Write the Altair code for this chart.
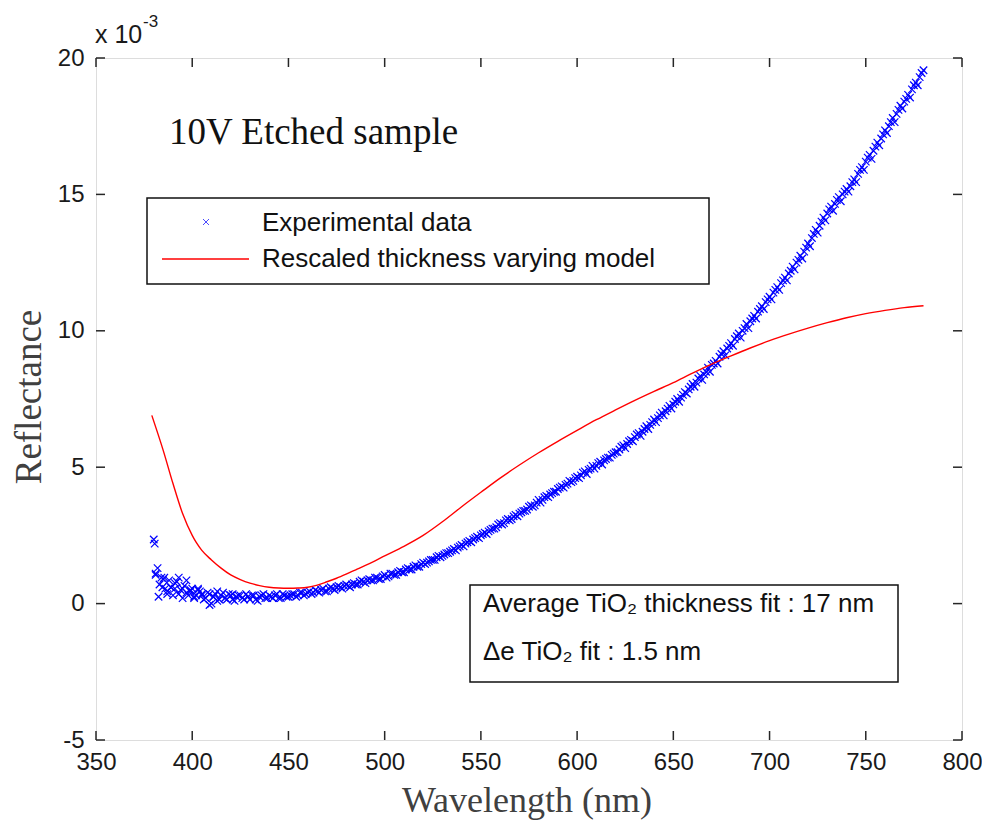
import altair as alt
import pandas as pd

# ---------------- data ----------------
exp_wl = list(range(380, 782, 2))
exp_r = [
    2.35, 1.3, 0.95, 0.55, 0.85, 0.3, 0.8, 0.5, 0.65, 0.3,
    0.55, 0.3, 0.45, 0.15, 0.4, 0.0, 0.35, 0.15, 0.4, 0.15,
    0.3, 0.1, 0.3, 0.2, 0.35, 0.15, 0.3, 0.1, 0.3, 0.2,
    0.3, 0.2, 0.35, 0.2, 0.3, 0.25, 0.35, 0.25, 0.4, 0.3,
    0.4, 0.35, 0.5, 0.4, 0.55, 0.45, 0.6, 0.5, 0.65, 0.55,
    0.7, 0.6, 0.75, 0.7, 0.85, 0.75, 0.9, 0.85, 0.95, 0.9,
    1.05, 1.0, 1.1, 1.05, 1.2, 1.15, 1.3, 1.25, 1.4, 1.35,
    1.5, 1.5, 1.6, 1.6, 1.75, 1.75, 1.85, 1.9, 2.0, 2.05,
    2.15, 2.2, 2.3, 2.35, 2.45, 2.5, 2.6, 2.65, 2.75, 2.8,
    2.95, 2.95, 3.1, 3.1, 3.25, 3.3, 3.4, 3.45, 3.6, 3.6,
    3.8, 3.8, 3.95, 4.0, 4.1, 4.2, 4.3, 4.35, 4.5, 4.5,
    4.65, 4.7, 4.85, 4.9, 5.05, 5.05, 5.2, 5.25, 5.35, 5.45,
    5.55, 5.65, 5.8, 5.85, 6.0, 6.1, 6.25, 6.3, 6.5, 6.55,
    6.75, 6.8, 7.0, 7.05, 7.25, 7.3, 7.5, 7.55, 7.75, 7.85,
    8.05, 8.1, 8.35, 8.4, 8.65, 8.75, 8.9, 9.05, 9.25, 9.35,
    9.55, 9.7, 9.9, 10.0, 10.25, 10.35, 10.55, 10.7, 10.9, 11.05,
    11.25, 11.4, 11.6, 11.75, 11.95, 12.1, 12.35, 12.5, 12.75, 12.9,
    13.2, 13.4, 13.7, 13.85, 14.15, 14.3, 14.55, 14.65, 14.9, 15.0,
    15.2, 15.3, 15.55, 15.75, 16.0, 16.2, 16.45, 16.6, 16.9, 17.05,
    17.35, 17.5, 17.8, 17.95, 18.25, 18.4, 18.65, 18.85, 19.1, 19.3,
    19.55,
]
odd_wl = list(range(381, 781, 2))
odd_r = [
    1.1, 0.7, 0.9, 0.45, 0.6, 0.75, 0.35, 0.55, 0.4, 0.5,
    0.25, 0.5, 0.3, 0.2, 0.35, 0.25, 0.1, 0.3, 0.2, 0.35,
    0.15, 0.25, 0.3, 0.15, 0.25, 0.3, 0.15, 0.25, 0.35, 0.2,
    0.25, 0.3, 0.2, 0.35, 0.25, 0.3, 0.35, 0.3, 0.4, 0.35,
    0.45, 0.4, 0.45, 0.5, 0.45, 0.55, 0.55, 0.6, 0.6, 0.65,
    0.65, 0.7, 0.7, 0.8, 0.8, 0.85, 0.85, 0.95, 0.9, 1.0,
    0.95, 1.1, 1.05, 1.15, 1.15, 1.25, 1.25, 1.35, 1.35, 1.45,
    1.45, 1.55, 1.6, 1.7, 1.7, 1.8, 1.85, 1.95, 1.95, 2.1,
    2.1, 2.25, 2.25, 2.4, 2.4, 2.55, 2.55, 2.7, 2.75, 2.9,
    2.9, 3.05, 3.05, 3.2, 3.2, 3.35, 3.4, 3.55, 3.55, 3.7,
    3.7, 3.9, 3.9, 4.05, 4.1, 4.25, 4.25, 4.4, 4.45, 4.6,
    4.6, 4.8, 4.75, 4.95, 4.95, 5.15, 5.1, 5.3, 5.35, 5.5,
    5.55, 5.75, 5.7, 5.95, 5.95, 6.2, 6.15, 6.4, 6.4, 6.65,
    6.65, 6.9, 6.9, 7.15, 7.15, 7.4, 7.4, 7.65, 7.7, 7.95,
    7.95, 8.25, 8.2, 8.5, 8.5, 8.8, 8.8, 9.15, 9.1, 9.45,
    9.45, 9.8, 9.75, 10.1, 10.1, 10.45, 10.45, 10.8, 10.8, 11.15,
    11.15, 11.5, 11.5, 11.85, 11.85, 12.2, 12.25, 12.6, 12.65, 13.05,
    13.1, 13.55, 13.6, 14.0, 14.05, 14.45, 14.4, 14.8, 14.75, 15.1,
    15.1, 15.45, 15.45, 15.9, 15.9, 16.35, 16.3, 16.75, 16.8, 17.2,
    17.25, 17.65, 17.65, 18.1, 18.15, 18.5, 18.55, 19.0, 19.0, 19.45,
]
extra_wl = [380.5, 381, 382.5, 384.5, 385.5, 387, 389, 391, 393, 395,
            397, 399, 401, 403, 405, 409, 411, 413, 417, 421]
extra_r = [2.2, 1.05, 0.25, 0.6, 0.95, 0.35, 0.6, 0.55, 0.95, 0.2,
           0.85, 0.45, 0.2, 0.55, 0.35, -0.05, 0.25, 0.45, 0.2, 0.35]

model_wl = [379, 385, 390, 395, 400, 402, 405, 410, 415, 420, 425, 430, 435,
            440, 445, 450, 455, 460, 465, 470, 475, 480, 485, 490, 495, 500,
            510, 520, 530, 540, 550, 560, 570, 580, 590, 600, 610, 620, 630,
            640, 650, 660, 670, 680, 690, 700, 710, 720, 730, 740, 750, 760,
            770, 780]
model_r = [6.9, 5.6, 4.4, 3.3, 2.5, 2.25, 1.95, 1.6, 1.3, 1.05, 0.88, 0.75,
           0.66, 0.6, 0.57, 0.56, 0.57, 0.6, 0.68, 0.8, 0.93, 1.08, 1.24, 1.4,
           1.57, 1.75, 2.1, 2.5, 3.0, 3.55, 4.08, 4.6, 5.08, 5.53, 5.95, 6.35,
           6.74, 7.1, 7.45, 7.78, 8.1, 8.45, 8.78, 9.08, 9.37, 9.64, 9.88,
           10.1, 10.3, 10.48, 10.63, 10.75, 10.85, 10.92]

x_ticks = [350, 400, 450, 500, 550, 600, 650, 700, 750, 800]
y_ticks = [-5, 0, 5, 10, 15, 20]

# ---------------- layout constants ----------------
W, H = 866, 682
SANS = "Liberation Sans"
SERIF = "Liberation Serif"
XSHAPE = "M-1,-1L1,1M-1,1L1,-1"
BLUE = "#0000ff"
RED = "#ff0000"

exp_df = pd.DataFrame({"wl": exp_wl + odd_wl + extra_wl,
                       "r": exp_r + odd_r + extra_r})
model_df = pd.DataFrame({"wl": model_wl, "r": model_r})
xt_df = pd.DataFrame({"v": x_ticks})
yt_df = pd.DataFrame({"v": y_ticks})
one = pd.DataFrame({"a": [0]})

xscale = alt.Scale(domain=[350, 800], nice=False, zero=False)
yscale = alt.Scale(domain=[-5, 20], nice=False, zero=False)

xaxis = alt.Axis(values=x_ticks, title=None, grid=False, ticks=False, tickSize=0,
                 domain=False, labelFont=SANS, labelFontSize=24, labelColor="#1a1a1a",
                 labelPadding=10, labelFlush=False, labelOverlap=False,
                 labelExpr="replace(datum.label, '\u2212', '-')")
yaxis = alt.Axis(values=y_ticks, title=None, grid=False, ticks=False, tickSize=0,
                 domain=False, labelFont=SANS, labelFontSize=24, labelColor="#1a1a1a",
                 labelPadding=12, labelFlush=False, labelOverlap=False,
                 labelExpr="replace(datum.label, '\u2212', '-')")

points = alt.Chart(exp_df).mark_point(
    shape=XSHAPE, filled=False, color=BLUE, strokeWidth=1.2, size=56, opacity=1
).encode(
    x=alt.X("wl:Q", scale=xscale, axis=xaxis),
    y=alt.Y("r:Q", scale=yscale, axis=yaxis),
)

line = alt.Chart(model_df).mark_line(color=RED, strokeWidth=1.4, interpolate="monotone").encode(
    x=alt.X("wl:Q", scale=xscale),
    y=alt.Y("r:Q", scale=yscale),
)

TICK = 9
tick_col = "#262626"
xt_bottom = alt.Chart(xt_df).mark_rule(color=tick_col, strokeWidth=1.5).encode(
    x=alt.X("v:Q", scale=xscale), y=alt.value(H), y2=alt.value(H - TICK))
xt_top = alt.Chart(xt_df).mark_rule(color=tick_col, strokeWidth=1.5).encode(
    x=alt.X("v:Q", scale=xscale), y=alt.value(0), y2=alt.value(TICK))
yt_left = alt.Chart(yt_df).mark_rule(color=tick_col, strokeWidth=1.5).encode(
    y=alt.Y("v:Q", scale=yscale), x=alt.value(0), x2=alt.value(TICK))
yt_right = alt.Chart(yt_df).mark_rule(color=tick_col, strokeWidth=1.5).encode(
    y=alt.Y("v:Q", scale=yscale), x=alt.value(W), x2=alt.value(W - TICK))

# legend box
leg_box = alt.Chart(one).mark_rect(fill="white", stroke="#111111", strokeWidth=1.5).encode(
    x=alt.value(51), x2=alt.value(613), y=alt.value(140), y2=alt.value(226))
leg_pt = alt.Chart(one).mark_point(shape=XSHAPE, filled=False, color=BLUE,
                                    strokeWidth=1, size=36).encode(
    x=alt.value(110), y=alt.value(164))
leg_line = alt.Chart(one).mark_rule(color=RED, strokeWidth=1.4).encode(
    x=alt.value(66), x2=alt.value(153), y=alt.value(201))
leg_t1 = alt.Chart(one).mark_text(text="Experimental data", align="left", baseline="middle",
                                   font=SANS, fontSize=26, color="#111111").encode(
    x=alt.value(166), y=alt.value(165))
leg_t2 = alt.Chart(one).mark_text(text="Rescaled thickness varying model", align="left",
                                   baseline="middle", font=SANS, fontSize=26,
                                   color="#111111").encode(
    x=alt.value(166), y=alt.value(201))

# annotation box
ann_box = alt.Chart(one).mark_rect(fill="white", stroke="#111111", strokeWidth=1.5).encode(
    x=alt.value(374), x2=alt.value(802), y=alt.value(527), y2=alt.value(624))
ann_t1 = alt.Chart(one).mark_text(text="Average TiO\u2082 thickness fit : 17 nm", align="left",
                                   baseline="alphabetic", font=SANS, fontSize=26,
                                   color="#111111").encode(
    x=alt.value(387), y=alt.value(554))
ann_t2 = alt.Chart(one).mark_text(text="\u0394e TiO\u2082 fit : 1.5 nm", align="left",
                                   baseline="alphabetic", font=SANS, fontSize=26,
                                   color="#111111").encode(
    x=alt.value(387), y=alt.value(602))

# titles
sample_t = alt.Chart(one).mark_text(text="10V Etched sample", align="left",
                                     baseline="alphabetic", font=SERIF, fontSize=37,
                                     color="#111111").encode(
    x=alt.value(73), y=alt.value(86))
xtitle = alt.Chart(one).mark_text(text="Wavelength (nm)", align="center",
                                   baseline="alphabetic", font=SERIF, fontSize=36,
                                   color="#404040").encode(
    x=alt.value(431), y=alt.value(754))
ytitle = alt.Chart(one).mark_text(text="Reflectance", align="center",
                                   baseline="alphabetic", font=SERIF, fontSize=37,
                                   color="#404040", angle=270).encode(
    x=alt.value(-55), y=alt.value(339))
exp_base = alt.Chart(one).mark_text(text="x 10", align="left", baseline="alphabetic",
                                     font=SANS, fontSize=25, color="#1a1a1a").encode(
    x=alt.value(-1), y=alt.value(-15))
exp_sup = alt.Chart(one).mark_text(text="-3", align="left", baseline="alphabetic",
                                    font=SANS, fontSize=17, color="#1a1a1a").encode(
    x=alt.value(47), y=alt.value(-31))

chart = alt.layer(
    points, line, xt_bottom, xt_top, yt_left, yt_right,
    leg_box, leg_pt, leg_line, leg_t1, leg_t2,
    ann_box, ann_t1, ann_t2,
    sample_t, xtitle, ytitle, exp_base, exp_sup,
).properties(
    width=W, height=H,
    padding={"left": 88, "top": 50, "right": 20, "bottom": 80},
    autosize=alt.AutoSizeParams(type="none"),
).configure_view(
    stroke="#262626", strokeWidth=1.5
).configure(background="white")

chart.save("out.html", embed_options={"renderer": "svg", "actions": False})
